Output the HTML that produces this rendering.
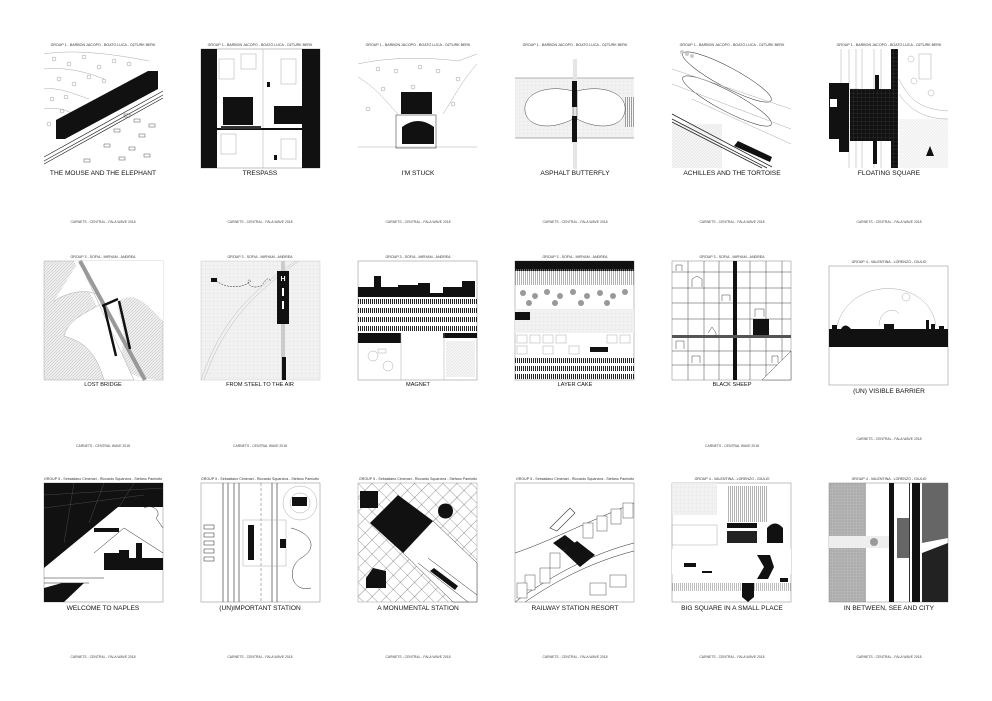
<!DOCTYPE html>
<html><head><meta charset="utf-8"><style>
html,body{margin:0;padding:0;background:#fff;}
svg{display:block;font-family:"Liberation Sans",sans-serif;}
.h{font-size:3.6px;fill:#333;text-anchor:middle}
.t{font-size:6.6px;fill:#111;text-anchor:middle}
.t2{font-size:5.6px;fill:#111;text-anchor:middle}
.f{font-size:3.4px;fill:#444;text-anchor:middle}
.b{fill:none;stroke:#999;stroke-width:0.6}
.l{fill:none;stroke:#222;stroke-width:0.5}
.g{fill:none;stroke:#aaa;stroke-width:0.5}
</style></head><body>
<svg width="992" height="701" viewBox="0 0 992 701" xmlns="http://www.w3.org/2000/svg">
<defs>
<pattern id="hat" width="3" height="3" patternUnits="userSpaceOnUse"><rect width="3" height="3" fill="#eee"/><path d="M0 3L3 0" stroke="#bbb" stroke-width="0.5"/></pattern>
<pattern id="grid" width="4" height="4" patternUnits="userSpaceOnUse"><rect width="4" height="4" fill="#f2f2f2"/><path d="M0 0H4M0 0V4" stroke="#ddd" stroke-width="0.4"/></pattern>
<pattern id="dgrid" width="3" height="3" patternUnits="userSpaceOnUse"><rect width="3" height="3" fill="#777"/><path d="M0 0H3M0 0V3" stroke="#aaa" stroke-width="0.4"/></pattern>
<pattern id="bgrid" width="4" height="4" patternUnits="userSpaceOnUse"><rect width="4" height="4" fill="#111"/><path d="M0 0H4M0 0V4" stroke="#666" stroke-width="0.3"/></pattern>
<pattern id="vs" width="2" height="4" patternUnits="userSpaceOnUse"><rect width="2" height="4" fill="#fff"/><rect width="1" height="4" fill="#222"/></pattern>
<pattern id="diag" width="10" height="10" patternUnits="userSpaceOnUse" patternTransform="rotate(45)"><rect width="10" height="10" fill="#fff"/><path d="M0 0H10M0 0V10" stroke="#444" stroke-width="0.6"/></pattern>
</defs>

<g class="h">
<text x="103" y="46">GROUP 1 - BARBON JACOPO - BOATO LUCA - OZTURK BERK</text>
<text x="260" y="46">GROUP 1 - BARBON JACOPO - BOATO LUCA - OZTURK BERK</text>
<text x="418" y="46">GROUP 1 - BARBON JACOPO - BOATO LUCA - OZTURK BERK</text>
<text x="575" y="46">GROUP 1 - BARBON JACOPO - BOATO LUCA - OZTURK BERK</text>
<text x="732" y="46">GROUP 1 - BARBON JACOPO - BOATO LUCA - OZTURK BERK</text>
<text x="889" y="46">GROUP 1 - BARBON JACOPO - BOATO LUCA - OZTURK BERK</text>
<text x="103" y="258">GROUP 3 - SOFIA - MIRYAM - ANDREA</text>
<text x="260" y="258">GROUP 3 - SOFIA - MIRYAM - ANDREA</text>
<text x="418" y="258">GROUP 3 - SOFIA - MIRYAM - ANDREA</text>
<text x="575" y="258">GROUP 3 - SOFIA - MIRYAM - ANDREA</text>
<text x="732" y="258">GROUP 3 - SOFIA - MIRYAM - ANDREA</text>
<text x="889" y="263">GROUP 4 - VALENTINA - LORENZO - GIULIO</text>
<text x="103" y="480">GROUP 5 - Sebastiano Cimenari - Riccardo Squarcina - Stefano Pamiotto</text>
<text x="260" y="480">GROUP 5 - Sebastiano Cimenari - Riccardo Squarcina - Stefano Pamiotto</text>
<text x="418" y="480">GROUP 5 - Sebastiano Cimenari - Riccardo Squarcina - Stefano Pamiotto</text>
<text x="575" y="480">GROUP 5 - Sebastiano Cimenari - Riccardo Squarcina - Stefano Pamiotto</text>
<text x="732" y="480">GROUP 4 - VALENTINA - LORENZO - GIULIO</text>
<text x="889" y="480">GROUP 4 - VALENTINA - LORENZO - GIULIO</text>
</g>
<g class="t">
<text x="103" y="175">THE MOUSE AND THE ELEPHANT</text>
<text x="260" y="175">TRESPASS</text>
<text x="418" y="175">I'M STUCK</text>
<text x="575" y="175">ASPHALT BUTTERFLY</text>
<text x="732" y="175">ACHILLES AND THE TORTOISE</text>
<text x="889" y="175">FLOATING SQUARE</text>
<text x="889" y="393">(UN) VISIBLE BARRIER</text>
<text x="103" y="610">WELCOME TO NAPLES</text>
<text x="260" y="610">(UN)IMPORTANT STATION</text>
<text x="418" y="610">A MONUMENTAL STATION</text>
<text x="575" y="610">RAILWAY STATION RESORT</text>
<text x="732" y="610">BIG SQUARE IN A SMALL PLACE</text>
<text x="889" y="610">IN BETWEEN, SEE AND CITY</text>
</g>
<g class="t2">
<text x="103" y="386">LOST BRIDGE</text>
<text x="260" y="386">FROM STEEL TO THE AIR</text>
<text x="418" y="386">MAGNET</text>
<text x="575" y="386">LAYER CAKE</text>
<text x="732" y="386">BLACK SHEEP</text>
</g>
<g class="f">
<text x="103" y="223">CARNETS - CENTRAL - FALA WAVE 2018</text>
<text x="260" y="223">CARNETS - CENTRAL - FALA WAVE 2018</text>
<text x="418" y="223">CARNETS - CENTRAL - FALA WAVE 2018</text>
<text x="575" y="223">CARNETS - CENTRAL - FALA WAVE 2018</text>
<text x="732" y="223">CARNETS - CENTRAL - FALA WAVE 2018</text>
<text x="889" y="223">CARNETS - CENTRAL - FALA WAVE 2018</text>
<text x="103" y="447">CARNETS - CENTRAL WAVE 2018</text>
<text x="260" y="447">CARNETS - CENTRAL WAVE 2018</text>
<text x="732" y="447">CARNETS - CENTRAL WAVE 2018</text>
<text x="889" y="440">CARNETS - CENTRAL - FALA WAVE 2018</text>
<text x="103" y="658">CARNETS - CENTRAL - FALA WAVE 2018</text>
<text x="260" y="658">CARNETS - CENTRAL - FALA WAVE 2018</text>
<text x="418" y="658">CARNETS - CENTRAL - FALA WAVE 2018</text>
<text x="575" y="658">CARNETS - CENTRAL - FALA WAVE 2018</text>
<text x="732" y="658">CARNETS - CENTRAL - FALA WAVE 2018</text>
<text x="889" y="658">CARNETS - CENTRAL - FALA WAVE 2018</text>
</g>

<!-- P1 -->
<g transform="translate(44,49)">
<path class="g" d="M0 5C30 0 70 5 105 12M0 20C20 18 40 22 60 30M0 40C15 38 30 45 45 50M0 60C10 58 20 60 30 65"/>
<g fill="none" stroke="#999" stroke-width="0.5">
<circle cx="10" cy="10" r="2"/><circle cx="25" cy="15" r="2"/><circle cx="40" cy="8" r="2"/><circle cx="55" cy="18" r="2"/><circle cx="70" cy="12" r="2"/><circle cx="85" cy="15" r="2"/><circle cx="15" cy="30" r="2"/><circle cx="30" cy="35" r="2"/><circle cx="45" cy="28" r="2"/><circle cx="60" cy="32" r="2"/><circle cx="8" cy="50" r="2"/><circle cx="22" cy="48" r="2"/><circle cx="5" cy="75" r="2"/><circle cx="18" cy="62" r="2"/>
</g>
<polygon points="12,71 104,22 114,22 114,40 21,90 12,90" fill="#111"/>
<path d="M0 108L119 42M0 112L119 46M0 115L119 49" stroke="#222" stroke-width="0.7"/>
<g fill="none" stroke="#555" stroke-width="0.5">
<rect x="80" y="65" width="6" height="3"/><rect x="90" y="70" width="6" height="3"/><rect x="70" y="80" width="6" height="3"/><rect x="95" y="85" width="6" height="3"/><rect x="60" y="95" width="6" height="3"/><rect x="85" y="98" width="6" height="3"/><rect x="40" y="110" width="6" height="3"/><rect x="100" y="105" width="6" height="3"/><rect x="75" y="108" width="6" height="3"/><rect x="105" y="75" width="6" height="3"/>
</g>
</g>

<!-- P2 -->
<g transform="translate(201,49)">
<rect width="119" height="119" class="b"/>
<rect x="0" y="0" width="16" height="119" fill="#111"/>
<rect x="101" y="0" width="18" height="119" fill="#111"/>
<g class="g"><rect x="18" y="10" width="15" height="20"/><rect x="40" y="5" width="15" height="15"/><rect x="80" y="10" width="15" height="25"/><rect x="20" y="85" width="15" height="20"/><rect x="80" y="90" width="15" height="20"/><path d="M62 0V119"/></g>
<rect x="22" y="48" width="30" height="28" fill="#111"/>
<rect x="73" y="57" width="30" height="18" fill="#111"/>
<rect x="10" y="79" width="100" height="2" fill="#111"/>
<rect x="20" y="77" width="40" height="3" fill="#333"/>
<rect x="66" y="33" width="3" height="5" fill="#111"/><rect x="73" y="106" width="3" height="5" fill="#111"/>
</g>

<!-- P3 -->
<g transform="translate(358,49)">
<path class="g" d="M0 15C30 8 70 8 100 12L119 5M0 28C20 40 30 55 40 65M119 15C105 30 95 50 85 65M0 98H119"/>
<g fill="none" stroke="#999" stroke-width="0.5"><circle cx="20" cy="20" r="2"/><circle cx="38" cy="22" r="2"/><circle cx="62" cy="18" r="2"/><circle cx="80" cy="22" r="2"/><circle cx="25" cy="40" r="2"/><circle cx="55" cy="38" r="2"/><circle cx="70" cy="45" r="2"/><circle cx="100" cy="30" r="2"/><circle cx="10" cy="60" r="2"/><circle cx="95" cy="55" r="2"/></g>
<rect x="43" y="43" width="31" height="22" fill="#111"/>
<rect x="38" y="66" width="40" height="33" class="l"/>
<path d="M44 78Q60 66 76 78V95H44Z" fill="#111"/>
</g>

<!-- P4 -->
<g transform="translate(515,49)">
<rect x="0" y="29" width="119" height="60" fill="url(#grid)"/>
<path d="M0 29H119M0 89H119" stroke="#999" stroke-width="0.8"/>
<rect x="58" y="10" width="4" height="110" fill="#e5e5e5"/>
<path d="M58 42C30 35 8 45 10 62C12 78 35 82 58 70ZM62 42C90 35 112 45 110 62C108 78 85 82 62 70Z" fill="#fff" stroke="#444" stroke-width="0.5"/>
<rect x="57" y="32" width="5" height="26" fill="#111"/><rect x="57" y="67" width="5" height="26" fill="#111"/>
<rect x="110" y="48" width="9" height="30" fill="url(#vs)" opacity="0.4"/>
</g>

<!-- P5 -->
<g transform="translate(672,49)">
<ellipse cx="55" cy="28" rx="50" ry="10" transform="rotate(28 55 28)" class="l"/>
<ellipse cx="55" cy="52" rx="50" ry="10" transform="rotate(28 55 52)" class="l"/>
<path class="g" d="M0 20L119 60M0 35L119 80M20 50L119 95"/>
<rect x="0" y="75" width="50" height="44" fill="url(#hat)" opacity="0.6"/>
<path d="M0 65L100 118M0 70L95 119M0 73L90 119" stroke="#222" stroke-width="0.8"/>
<polygon points="62,97 66,92 100,108 98,113" fill="#111"/>
<g fill="#ccc"><circle cx="10" cy="3" r="2"/><circle cx="15" cy="5" r="2"/><circle cx="20" cy="7" r="2"/></g>
</g>

<!-- P6 -->
<g transform="translate(829,49)">
<path class="g" d="M20 0V119M27 0V119M33 0V119M45 0V119M52 0V119M12 0V40H30"/>
<rect x="0" y="34" width="20" height="56" fill="#111"/><rect x="10" y="90" width="10" height="13" fill="#111"/>
<rect x="1" y="50" width="7" height="8" fill="#fff"/>
<rect x="21" y="40" width="48" height="52" fill="url(#bgrid)"/>
<rect x="62" y="0" width="7" height="119" fill="url(#bgrid)"/>
<rect x="46" y="26" width="4" height="15" fill="#111"/><rect x="44" y="90" width="4" height="25" fill="#111"/>
<rect x="70" y="70" width="49" height="49" fill="url(#hat)" opacity="0.4"/>
<path class="g" d="M70 30C80 50 90 60 119 62M70 45C80 60 95 70 119 70"/>
<g class="g"><rect x="90" y="5" width="12" height="25"/><circle cx="82" cy="10" r="3"/><circle cx="85" cy="32" r="3"/><circle cx="102" cy="44" r="3"/></g>
<polygon points="97,107 101,97 105,107" fill="#111"/>
</g>

<!-- P7 -->
<g transform="translate(44,261)">
<rect width="119" height="119" fill="url(#hat)" stroke="#aaa" stroke-width="0.5"/>
<path d="M30 0H119V60C100 40 90 30 75 40C70 45 80 60 80 80C70 110 90 119 119 119H90L30 0Z" fill="#fff"/>
<path d="M10 40C25 30 50 25 60 40C50 50 25 55 20 75C35 80 50 85 60 119H90L35 0" fill="#fff" stroke="#aaa" stroke-width="0.5"/>
<path d="M36 0L101 119" stroke="#999" stroke-width="4"/>
<path d="M58 45L74 38M60 45L72 95M75 40L86 88" stroke="#111" stroke-width="2.5" fill="none"/>
</g>

<!-- P8 -->
<g transform="translate(201,261)">
<rect width="119" height="119" fill="url(#grid)" stroke="#ccc" stroke-width="0.5"/>
<path d="M0 119C20 60 50 30 95 0M3 119C23 62 53 32 98 0" stroke="#bbb" stroke-width="0.5" fill="none"/>
<rect x="80" y="0" width="4" height="119" fill="#ccc"/>
<rect x="76" y="10" width="12" height="53" fill="#111"/>
<text x="82" y="20" font-size="7" fill="#fff" text-anchor="middle" font-weight="bold">H</text>
<rect x="81" y="27" width="2" height="8" fill="#fff"/><rect x="81" y="40" width="2" height="8" fill="#fff"/>
<rect x="81" y="96" width="4" height="23" fill="#111"/>
<path d="M15 20C30 30 45 25 50 20C45 15 45 30 60 25C65 20 65 15 70 20" class="l" stroke-dasharray="2,1"/>
<rect x="10" y="17" width="6" height="4" fill="#111"/>
</g>

<!-- P9 -->
<g transform="translate(358,261)">
<rect width="119" height="119" class="b"/>
<path d="M0 36V26H16V15H23V26H40V24H60V22H72V32H85V26H104V20H117V36Z" fill="#111"/>
<rect x="0" y="38" width="119" height="5" fill="url(#vs)"/>
<rect x="0" y="47" width="119" height="5" fill="url(#vs)"/>
<rect x="0" y="56" width="119" height="5" fill="url(#vs)"/>
<rect x="0" y="65" width="119" height="5" fill="url(#vs)"/>
<rect x="0" y="72" width="43" height="10" fill="#111"/><rect x="85" y="72" width="34" height="5" fill="#111"/>
<path d="M43 72V119M86 72V119" class="g"/>
<rect x="88" y="80" width="29" height="36" fill="url(#hat)" opacity="0.6"/>
<g class="g"><circle cx="15" cy="95" r="5"/><circle cx="30" cy="105" r="5"/><rect x="20" y="88" width="8" height="4"/></g>
</g>

<!-- P10 -->
<g transform="translate(515,261)">
<rect width="119" height="119" class="b"/>
<rect x="0" y="0" width="119" height="10" fill="#111"/>
<rect x="0" y="8" width="119" height="16" fill="url(#vs)" opacity="0.35"/>
<g fill="#999"><circle cx="8" cy="32" r="3"/><circle cx="20" cy="35" r="3"/><circle cx="32" cy="31" r="3"/><circle cx="45" cy="35" r="3"/><circle cx="58" cy="31" r="3"/><circle cx="72" cy="35" r="3"/><circle cx="85" cy="32" r="3"/><circle cx="98" cy="35" r="3"/><circle cx="110" cy="31" r="3"/><circle cx="14" cy="42" r="3"/><circle cx="40" cy="42" r="3"/><circle cx="66" cy="42" r="3"/><circle cx="92" cy="42" r="3"/></g>
<rect x="0" y="48" width="119" height="24" fill="url(#grid)"/>
<rect x="0" y="51" width="15" height="8" fill="#111"/>
<g class="g"><rect x="2" y="74" width="10" height="8"/><rect x="15" y="74" width="10" height="8"/><rect x="28" y="74" width="10" height="8"/><rect x="41" y="74" width="10" height="8"/><rect x="92" y="74" width="10" height="8"/><rect x="105" y="74" width="10" height="8"/><rect x="2" y="85" width="10" height="8"/><rect x="28" y="85" width="10" height="8"/><rect x="54" y="85" width="10" height="8"/></g>
<rect x="75" y="86" width="18" height="5" fill="#111"/>
<rect x="0" y="97" width="119" height="5" fill="url(#vs)"/><rect x="0" y="105" width="119" height="5" fill="url(#vs)"/><rect x="0" y="113" width="119" height="5" fill="url(#vs)"/>
</g>

<!-- P11 -->
<g transform="translate(672,261)">
<rect width="119" height="119" class="b"/>
<g stroke="#444" stroke-width="0.5" fill="none">
<path d="M0 11H119M0 27H119M0 42H119M0 58H119M0 90H119M0 104H119M16 0V119M32 0V119M47 0V119M78 0V119M94 0V119M110 0V119"/>
<path d="M4 10V4H10V10M20 26V18L25 15L30 18V26M50 40V34H58V40M83 56V48H92V56M4 88V80H12V88M36 72L40 66L44 72V74M20 102V95H28V102M100 102V95H106V102"/>
</g>
<rect x="61" y="0" width="4" height="119" fill="#111"/>
<rect x="0" y="74" width="119" height="3" fill="#555"/>
<rect x="81" y="58" width="16" height="16" fill="#111"/>
<path d="M90 119L119 90V119Z" fill="#fff" stroke="#444" stroke-width="0.5"/>
</g>

<!-- P12 -->
<g transform="translate(829,266)">
<rect width="119" height="119" class="b"/>
<path d="M8 60C20 10 100 10 107 60" class="g"/>
<circle cx="77" cy="31" r="4" class="g"/>
<path d="M50 60C50 45 65 40 70 48" class="g"/>
<rect x="0" y="63" width="119" height="18" fill="#111"/>
<path d="M3 63V59H8V63M12 63Q16 56 22 63M55 63V58H65V63M97 63V54H100V63M102 63V58H106V63M110 63V60H115V63" fill="#111"/>
</g>

<!-- P13 -->
<g transform="translate(44,483)">
<rect width="119" height="119" class="b"/>
<polygon points="0,0 119,0 119,24 74,24 0,85" fill="#111"/>
<path d="M0 12L119 5M0 25L100 12M30 0L20 60M60 0L45 40M90 0L75 24" stroke="#555" stroke-width="0.4"/>
<polygon points="0,119 0,105 18,100 40,100 20,119" fill="#111"/>
<path d="M100 25C110 20 118 30 112 35L119 45" class="l"/>
<path d="M50 70L80 45L119 70" class="l"/>
<path d="M60 77V70H75V67H85V75H92V60H98V75H119V87H60Z" fill="#111"/>
<path d="M0 95H60M0 100H45" class="l"/>
<rect x="50" y="45" width="25" height="4" fill="#111"/>
</g>

<!-- P14 -->
<g transform="translate(201,483)">
<rect width="119" height="119" class="b"/>
<path d="M22 0V119M27 0V119M33 0V119M38 0V119M71 0V119M76 0V119" stroke="#444" stroke-width="0.7"/>
<path d="M60 0V119" stroke="#666" stroke-width="0.5" stroke-dasharray="3,2"/>
<rect x="42" y="37" width="43" height="46" class="g"/>
<rect x="47" y="42" width="6" height="35" fill="#111"/>
<rect x="79" y="56" width="6" height="9" fill="#111"/>
<circle cx="99" cy="20" r="17" class="g"/><circle cx="99" cy="20" r="10" class="g"/>
<rect x="91" y="14" width="15" height="9" fill="#111"/>
<path d="M90 45C110 50 118 65 100 75C85 85 90 110 110 105" class="l"/>
<g class="l"><rect x="3" y="42" width="10" height="4"/><rect x="3" y="50" width="10" height="4"/><rect x="3" y="58" width="10" height="4"/><rect x="3" y="66" width="10" height="4"/><rect x="3" y="74" width="10" height="4"/></g>
</g>

<!-- P15 -->
<g transform="translate(358,483)">
<rect width="119" height="119" fill="url(#diag)" stroke="#999" stroke-width="0.5"/>
<polygon points="12,40 40,12 75,38 45,70" fill="#111"/>
<polygon points="45,70 75,38 119,80 119,119 95,119" fill="#fff" stroke="#333" stroke-width="0.5"/>
<path d="M60 80L110 119M70 75L119 112" class="l"/>
<polygon points="72,88 76,85 100,103 97,107" fill="#111"/>
<rect x="2" y="8" width="18" height="17" fill="#111"/>
<path d="M80 28C80 18 95 18 95 28C95 38 80 38 80 28" fill="#111"/>
<polygon points="8,95 15,85 28,88 28,105 8,105" fill="#111"/>
</g>

<!-- P16 -->
<g transform="translate(515,483)">
<rect width="119" height="119" class="b"/>
<path d="M0 70C30 60 70 40 119 20M0 119C40 90 80 70 119 60M10 119C45 95 80 78 119 68" class="l"/>
<polygon points="35,45 55,25 60,30 42,48" fill="none" stroke="#333" stroke-width="0.6"/>
<polygon points="38,60 50,52 60,60 48,68" fill="#111"/>
<polygon points="48,68 62,58 80,72 65,84" fill="#111"/>
<g fill="#fff" stroke="#555" stroke-width="0.5">
<rect x="68" y="40" width="10" height="15"/><rect x="82" y="33" width="10" height="15"/><rect x="96" y="26" width="10" height="15"/><rect x="108" y="20" width="10" height="15"/>
<rect x="35" y="70" width="10" height="15"/><rect x="25" y="85" width="10" height="15"/><rect x="10" y="92" width="10" height="15"/><rect x="2" y="100" width="10" height="15"/>
<rect x="75" y="100" width="16" height="12"/><rect x="95" y="92" width="16" height="12"/>
</g>
</g>

<!-- P17 -->
<g transform="translate(672,483)">
<rect width="119" height="119" class="b"/>
<rect x="0" y="0" width="45" height="32" fill="url(#grid)"/>
<rect x="55" y="3" width="40" height="36" fill="url(#vs)" opacity="0.35"/>
<rect x="55" y="40" width="30" height="5" fill="#111"/>
<rect x="55" y="48" width="30" height="12" fill="#222"/>
<rect x="0" y="42" width="45" height="20" class="g"/>
<path d="M95 60V45Q103 36 111 45V60Z" fill="#111"/>
<rect x="0" y="66" width="119" height="25" fill="#fff"/>
<rect x="12" y="80" width="12" height="4" fill="#111"/><rect x="30" y="88" width="10" height="2" fill="#111"/>
<path d="M85 72L98 72L102 84L96 96L85 96L92 84Z" fill="#111"/>
<rect x="0" y="100" width="119" height="8" fill="url(#vs)" opacity="0.3"/>
<path d="M70 100V114L76 119L82 114V100Z" fill="#111"/>
<rect x="108" y="95" width="8" height="4" fill="#111"/>
</g>

<!-- P18 -->
<g transform="translate(829,483)">
<rect width="119" height="119" class="b"/>
<rect x="0" y="0" width="37" height="55" fill="url(#dgrid)" opacity="0.6"/>
<rect x="0" y="65" width="37" height="54" fill="url(#dgrid)" opacity="0.6"/>
<rect x="0" y="53" width="60" height="12" fill="#eee"/>
<circle cx="45" cy="59" r="4" fill="#999"/>
<rect x="60" y="0" width="5" height="119" fill="#111"/>
<rect x="68" y="35" width="12" height="40" fill="#666"/>
<rect x="80" y="0" width="1" height="119" fill="#333"/>
<rect x="83" y="0" width="8" height="119" fill="#111"/>
<polygon points="93,0 119,0 119,55 93,60" fill="#666"/>
<polygon points="93,70 119,60 119,119 93,119" fill="#222"/>
<g fill="#fff"><circle cx="40" cy="5" r="1.5"/><circle cx="40" cy="15" r="1.5"/><circle cx="40" cy="25" r="1.5"/><circle cx="40" cy="35" r="1.5"/><circle cx="40" cy="45" r="1.5"/><circle cx="40" cy="75" r="1.5"/><circle cx="40" cy="95" r="1.5"/><circle cx="40" cy="105" r="1.5"/></g>
</g>
</svg>
</body></html>
